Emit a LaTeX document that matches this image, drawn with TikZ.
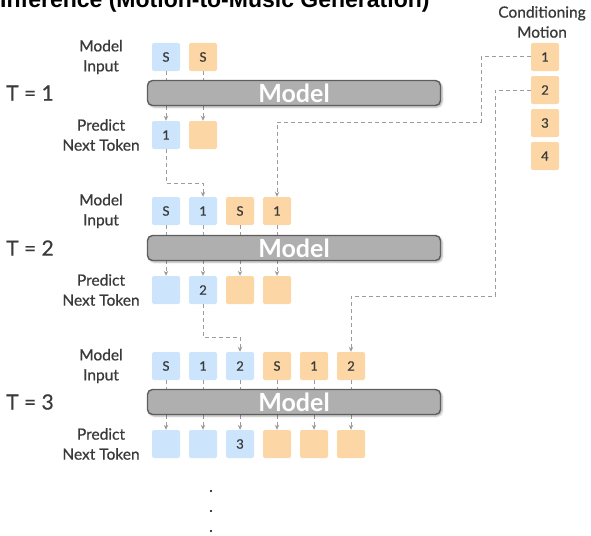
\documentclass[tikz,border=0pt]{standalone}
\usepackage{fontspec}
\setmainfont{Lato}
\newfontfamily\medfont{Lato}[FakeBold=0.6]
\newfontfamily\titlefont{Liberation Sans}
\usetikzlibrary{arrows.meta,shadows,shadows.blur}

\definecolor{tokblue}{HTML}{CCE5FC}
\definecolor{tokorange}{HTML}{FDD6A6}
\definecolor{bargray}{HTML}{AFAFAF}
\definecolor{barline}{HTML}{5E5E5E}
\definecolor{inkgray}{HTML}{3A3A3A}
\definecolor{flowgray}{HTML}{9C9C9C}

\tikzset{
  tok/.style={minimum size=28pt, inner sep=0pt, rounded corners=2pt,
    text=inkgray, font=\medfont\fontsize{13}{14}\selectfont},
  tokb/.style={tok, fill=tokblue},
  toko/.style={tok, fill=tokorange},
  modelbar/.style={draw=barline, line width=1.4pt, fill=bargray,
    rounded corners=5pt, minimum width=293pt, minimum height=25pt,
    inner sep=0pt, text=white, font=\fontsize{25}{25}\bfseries\selectfont,
    blur shadow={shadow xshift=1.5pt, shadow yshift=-1.5pt,
      shadow blur radius=2pt, shadow opacity=35}},
  rowlabel/.style={align=center, text=inkgray, inner sep=0pt,
    font=\medfont\fontsize{15.5}{20}\selectfont},
  steplabel/.style={text=inkgray, inner sep=0pt, anchor=west,
    font=\medfont\fontsize{21}{21}\selectfont},
  flow/.style={draw=flowgray, line width=1pt, dash pattern=on 4pt off 3pt,
    -{Stealth[length=5pt,width=4.5pt]}},
}

\begin{document}
\begin{tikzpicture}[x=1pt, y=-1pt]
    \useasboundingbox (0,0) rectangle (591,535);

    % Title (cut at the top)
    \node[anchor=base west, inner sep=0pt] (title) at (0,8)
        {\titlefont\fontsize{23}{23}\selectfont\bfseries Inference (Motion-to-Music Generation)};

    % Conditioning motion
    \node[rowlabel] (cond) at (542,22) {Conditioning\\Motion};
    \node[toko] (c1) at (545,57) {1};
    \node[toko] (c2) at (545,90) {2};
    \node[toko] (c3) at (545,123) {3};
    \node[toko] (c4) at (545,156) {4};

    % T = 1
    \node[steplabel] (t1) at (6,93) {T = 1};
    \node[rowlabel] (lin1) at (101,57) {Model\\Input};
    \node[rowlabel] (lout1) at (101,135) {Predict\\Next Token};
    \node[tokb] (in1-1) at (166,57) {S};
    \node[toko] (in1-2) at (203,57) {S};
    \node[tokb] (out1-1) at (166,135) {1};
    \node[toko] (out1-2) at (203,135) {};
    \foreach \i in {1,2}
        \draw[flow] (in1-\i.south) -- (out1-\i.north);
    \node[modelbar] (bar1) at (294,93) {Model};

    % T = 2
    \node[steplabel] (t2) at (6,248) {T = 2};
    \node[rowlabel] (lin2) at (101,211) {Model\\Input};
    \node[rowlabel] (lout2) at (101,290) {Predict\\Next Token};
    \node[tokb] (in2-1) at (166,211) {S};
    \node[tokb] (in2-2) at (203,211) {1};
    \node[toko] (in2-3) at (240,211) {S};
    \node[toko] (in2-4) at (277,211) {1};
    \node[tokb] (out2-1) at (166,290) {};
    \node[tokb] (out2-2) at (203,290) {2};
    \node[toko] (out2-3) at (240,290) {};
    \node[toko] (out2-4) at (277,290) {};
    \foreach \i in {1,...,4}
        \draw[flow] (in2-\i.south) -- (out2-\i.north);
    \node[modelbar] (bar2) at (294,248) {Model};

    % T = 3
    \node[steplabel] (t3) at (6,402) {T = 3};
    \node[rowlabel] (lin3) at (101,366) {Model\\Input};
    \node[rowlabel] (lout3) at (101,444) {Predict\\Next Token};
    \node[tokb] (in3-1) at (166,366) {S};
    \node[tokb] (in3-2) at (203,366) {1};
    \node[tokb] (in3-3) at (240,366) {2};
    \node[toko] (in3-4) at (277,366) {S};
    \node[toko] (in3-5) at (314,366) {1};
    \node[toko] (in3-6) at (351,366) {2};
    \node[tokb] (out3-1) at (166,444) {};
    \node[tokb] (out3-2) at (203,444) {};
    \node[tokb] (out3-3) at (240,444) {3};
    \node[toko] (out3-4) at (277,444) {};
    \node[toko] (out3-5) at (314,444) {};
    \node[toko] (out3-6) at (351,444) {};
    \foreach \i in {1,...,6}
        \draw[flow] (in3-\i.south) -- (out3-\i.north);
    \node[modelbar] (bar3) at (294,402) {Model};

    % Feed predicted tokens back
    \coordinate (f1) at (203,183);
    \coordinate (f2) at (240,337);
    \draw[flow] (out1-1.south) |- (f1) -- (in2-2.north);
    \draw[flow] (out2-2.south) |- (f2) -- (in3-3.north);

    % Conditioning motion into the model
    \coordinate (k1) at (481,122);
    \coordinate (k2) at (495,296);
    \draw[flow] (c1.west) -| (k1) -| (in2-4.north);
    \draw[flow] (c2.west) -| (k2) -| (in3-6.north);

    % More steps
    \foreach \k in {491,511,531}
        \fill (211,\k) circle (1.1pt);
\end{tikzpicture}
\end{document}
